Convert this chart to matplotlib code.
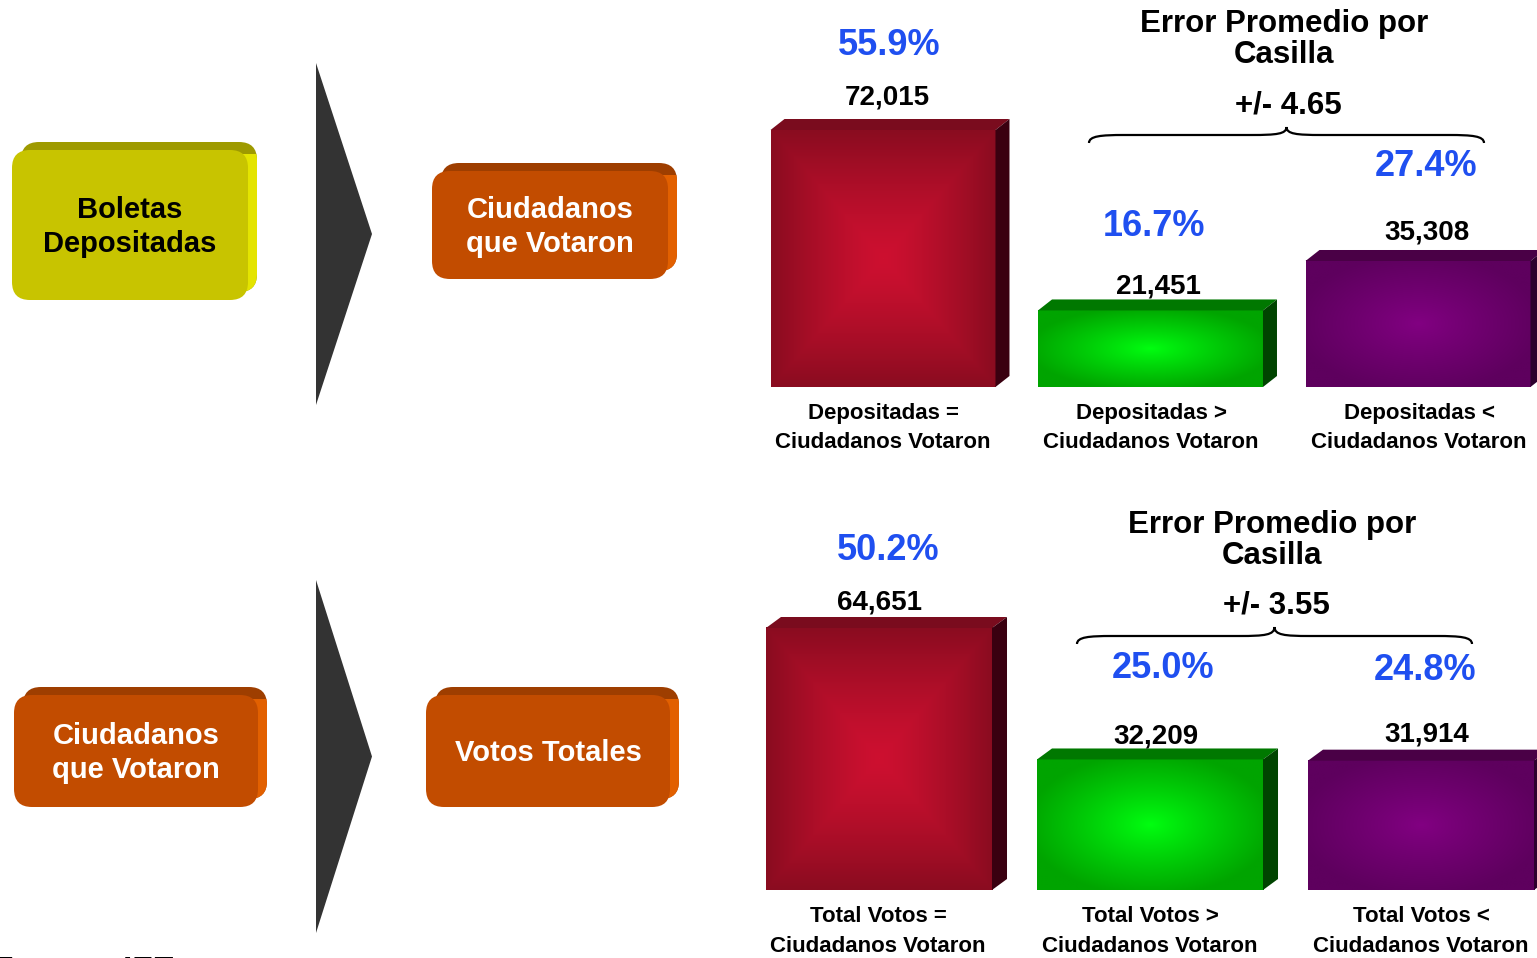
import numpy as np
import matplotlib
matplotlib.use("Agg")
import matplotlib.pyplot as plt
from matplotlib.patches import Polygon, FancyBboxPatch, Rectangle, PathPatch
from matplotlib.path import Path
from matplotlib.colors import LinearSegmentedColormap

plt.rcParams["font.family"] = ["Liberation Sans", "DejaVu Sans"]
plt.rcParams["font.weight"] = "bold"

# data
top_values = [72015, 21451, 35308]
top_pcts = ["55.9%", "16.7%", "27.4%"]
top_cats = ["Depositadas =\nCiudadanos Votaron",
            "Depositadas >\nCiudadanos Votaron",
            "Depositadas <\nCiudadanos Votaron"]
top_error = "+/- 4.65"

bot_values = [64651, 32209, 31914]
bot_pcts = ["50.2%", "25.0%", "24.8%"]
bot_cats = ["Total Votos =\nCiudadanos Votaron",
            "Total Votos >\nCiudadanos Votaron",
            "Total Votos <\nCiudadanos Votaron"]
bot_error = "+/- 3.55"

# colours: (edge, centre, top face, side face)
bar_cols = [("#8a0c20", "#cd1030", "#7a0c1e", "#3a0010"),
            ("#00a400", "#00ff10", "#007800", "#004400"),
            ("#5e005e", "#820082", "#4a0046", "#2e002e")]
blue = "#1f4ff0"

W, H = 1537, 958
fig = plt.figure(figsize=(W / 100, H / 100), dpi=100)


def frac(l, t, r, b):
    return [l / W, (H - b) / H, (r - l) / W, (b - t) / H]


def bar_panel(rect, x_lo, x_hi, ymax, values, width, dxp, dyp, shapes):
    ax = fig.add_axes(rect)
    ax.set_xlim(x_lo, x_hi)
    ax.set_ylim(0, ymax)
    ax.axis("off")
    pxx = rect[2] * W / (x_hi - x_lo)
    pxy = rect[3] * H / ymax
    dx, dy = dxp / pxx, dyp / pxy
    xs = np.arange(len(values))
    bars = ax.bar(xs, values, width=width, color="none", zorder=2)
    u = np.linspace(-1, 1, 200)
    U, V = np.meshgrid(u, u)
    for i, (b, v) in enumerate(zip(bars, values)):
        edge, centre, topc, sidec = bar_cols[i]
        x0, x1 = b.get_x(), b.get_x() + b.get_width()
        if shapes[i] == "sq":
            d = np.maximum(np.abs(U), np.abs(V)) ** 1.3
        else:
            d = np.clip(np.sqrt(U ** 2 + V ** 2) / 1.1, 0, 1) ** 0.9
        cmap = LinearSegmentedColormap.from_list("g%d" % i, [centre, edge])
        ax.imshow(d, cmap=cmap, extent=(x0, x1, 0, v), aspect="auto",
                  interpolation="bilinear", zorder=2, vmin=0, vmax=1)
        ax.add_patch(Polygon([(x0, v), (x1, v), (x1 + dx, v + dy), (x0 + dx, v + dy)],
                             closed=True, fc=topc, ec="none", zorder=3))
        ax.add_patch(Polygon([(x1, 0), (x1 + dx, dy), (x1 + dx, v + dy), (x1, v)],
                             closed=True, fc=sidec, ec="none", zorder=3))
    ax.set_xlim(x_lo, x_hi)
    ax.set_ylim(0, ymax)
    return ax


# top panel: centres 883, 1150.5, 1418 px, baseline 387 px
sp = 267.5
bar_panel(frac(740, 0, 1537, 387), (740 - 883) / sp, (1537 - 883) / sp,
          387 * top_values[0] / 257, top_values, 0.841, 14, 11, ["sq", "el", "el"])
# bottom panel: centres 879, 1150, 1421 px, baseline 890 px
sp2 = 271
bar_panel(frac(740, 470, 1537, 890), (740 - 879) / sp2, (1537 - 879) / sp2,
          420 * bot_values[0] / 262, bot_values, 0.834, 15, 11, ["sq", "el", "el"])

# overlay in pixel coordinates
ov = fig.add_axes([0, 0, 1, 1], zorder=10)
ov.set_xlim(0, W)
ov.set_ylim(H, 0)
ov.axis("off")
ov.patch.set_alpha(0)


def box3d(x0, y0, x1, y1, face, topc, sidec, label, tcolor):
    w, h = x1 - x0, y1 - y0
    style = "round,pad=0,rounding_size=18"
    ov.add_patch(FancyBboxPatch((x0 + 9, y0 - 8), w, h, boxstyle=style, fc=topc, ec="none"))
    side = FancyBboxPatch((x0 + 9, y0 - 8), w, h, boxstyle=style, fc=sidec, ec="none")
    ov.add_patch(side)
    clip = Rectangle((x1 - 8, y0 + 4), 40, h + 20, transform=ov.transData)
    side.set_clip_path(clip)
    ov.add_patch(FancyBboxPatch((x0, y0), w, h, boxstyle=style, fc=face, ec="none"))
    ov.text((x0 + x1) / 2, (y0 + y1) / 2 + 2, label, ha="center", va="center",
            fontsize=21, color=tcolor, linespacing=1.3)


box3d(12, 150, 248, 300, "#c8c400", "#9e9a00", "#e4e400", "Boletas\nDepositadas", "black")
box3d(432, 171, 668, 279, "#c24c00", "#9e3e00", "#e26000", "Ciudadanos\nque Votaron", "white")
box3d(14, 695, 258, 807, "#c24c00", "#9e3e00", "#e26000", "Ciudadanos\nque Votaron", "white")
box3d(426, 695, 670, 807, "#c24c00", "#9e3e00", "#e26000", "Votos Totales", "white")

# arrows
for y0, y1 in [(63, 405), (580, 933)]:
    ov.add_patch(Polygon([(316, y0), (372, (y0 + y1) / 2), (316, y1)], closed=True,
                         fc="#333333", ec="none"))


def brace(x0, x1, ye, ym, yt):
    xm = (x0 + x1) / 2
    verts = [(x0, ye), (x0, ym + 1), (x0 + 12, ym), (x0 + 35, ym),
             (xm - 35, ym), (xm - 10, ym), (xm, ym - 1), (xm, yt),
             (xm, ym - 1), (xm + 10, ym), (xm + 35, ym),
             (x1 - 35, ym), (x1 - 12, ym), (x1, ym + 1), (x1, ye)]
    codes = [Path.MOVETO, Path.CURVE4, Path.CURVE4, Path.CURVE4,
             Path.LINETO, Path.CURVE4, Path.CURVE4, Path.CURVE4,
             Path.CURVE4, Path.CURVE4, Path.CURVE4,
             Path.LINETO, Path.CURVE4, Path.CURVE4, Path.CURVE4]
    ov.add_patch(PathPatch(Path(verts, codes), fc="none", ec="black", lw=1.6))


brace(1089, 1484, 143, 135, 127)
brace(1077, 1472, 644, 636, 627)

# titles
for cx, y1, y2, ye, err in [(1284, 24, 55, 105, top_error), (1272, 525, 556, 606, bot_error)]:
    ov.text(cx, y1, "Error Promedio por", ha="center", va="center", fontsize=22.5)
    ov.text(cx, y2, "Casilla", ha="center", va="center", fontsize=22.5)
    ov.text(cx + 4, ye, err, ha="center", va="center", fontsize=22.5)

# labels
top_pct_pos = [(889, 45), (1154, 226), (1426, 166)]
top_val_pos = [(887, 97), (1158, 287), (1427, 232)]
top_cat_x = [883, 1151, 1419]
bot_pct_pos = [(888, 550), (1163, 668), (1425, 671)]
bot_val_pos = [(879, 602), (1156, 737), (1427, 735)]
bot_cat_x = [878, 1150, 1421]

for pcts, vals, cats, ppos, vpos, cxs, cy in [
        (top_pcts, top_values, top_cats, top_pct_pos, top_val_pos, top_cat_x, 413),
        (bot_pcts, bot_values, bot_cats, bot_pct_pos, bot_val_pos, bot_cat_x, 917)]:
    for p, v, c, pp, vp, cx in zip(pcts, vals, cats, ppos, vpos, cxs):
        ov.text(pp[0], pp[1], p, ha="center", va="center", fontsize=26, color=blue)
        ov.text(vp[0], vp[1], f"{v:,}", ha="center", va="center", fontsize=20)
        l1, l2 = c.split("\n")
        ov.text(cx, cy, l1, ha="center", va="center", fontsize=16)
        ov.text(cx, cy + 30, l2, ha="center", va="center", fontsize=16)

ov.text(-7, 980, "Fuente: IFE", ha="left", va="baseline", fontsize=24)

fig.savefig("out.png", dpi=100)
